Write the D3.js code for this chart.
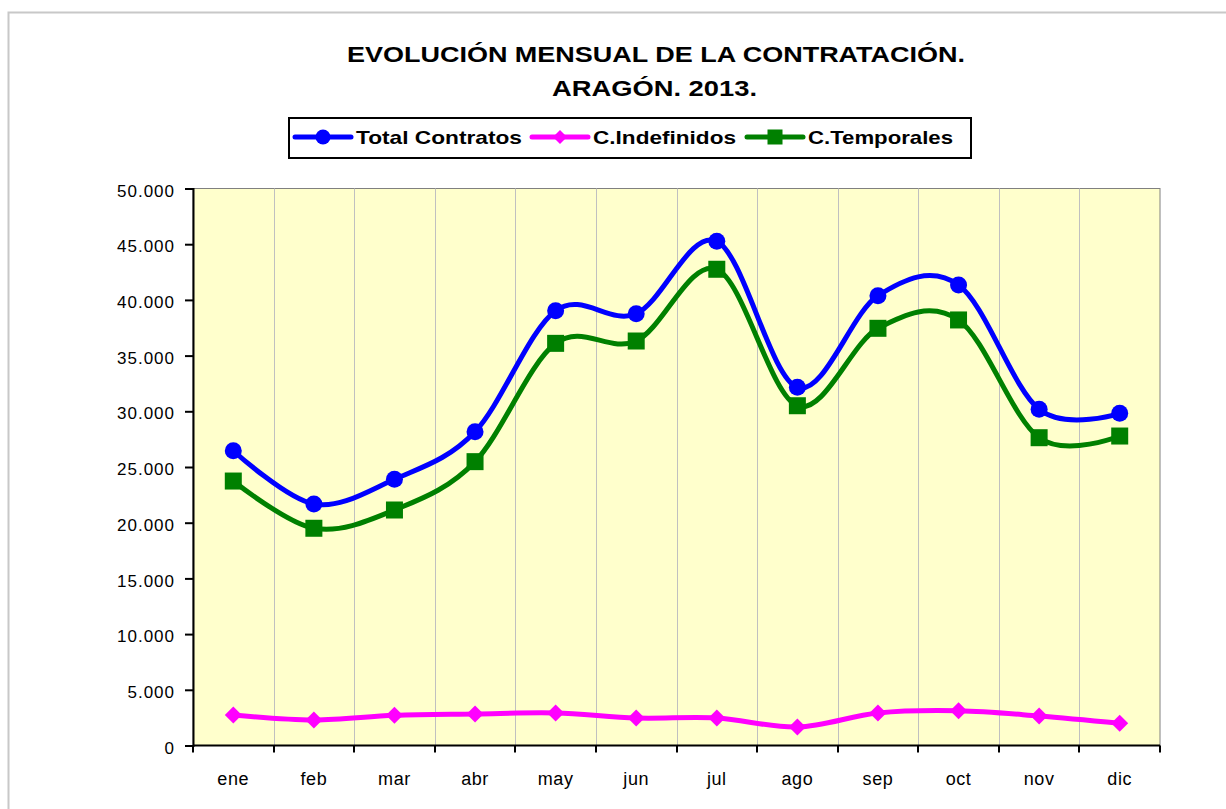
<!DOCTYPE html>
<html>
<head>
<meta charset="utf-8">
<script src="https://cdn.jsdelivr.net/npm/d3@7"></script>
<style>
  body { margin: 0; background: #fff; }
  text { font-family: "Liberation Sans", Arial, sans-serif; fill: #000; }
</style>
</head>
<body>
<svg id="chart"></svg>
<script>
// Datos
const meses = ["ene", "feb", "mar", "abr", "may", "jun", "jul", "ago", "sep", "oct", "nov", "dic"];
const totalContratos = [26460, 21680, 23900, 28170, 39030, 38760, 45260, 32150, 40380, 41340, 30180, 29820];
const indefinidos = [2740, 2290, 2710, 2830, 2920, 2470, 2470, 1660, 2920, 3120, 2650, 1990];
const temporales = [23740, 19500, 21140, 25480, 36100, 36310, 42750, 30500, 37450, 38200, 27630, 27780];
const yTicks = [0, 5000, 10000, 15000, 20000, 25000, 30000, 35000, 40000, 45000, 50000];

const W = 1226, H = 809;
const svg = d3.select("#chart").attr("width", W).attr("height", H);

// marco exterior
svg.append("rect")
  .attr("x", 8.5).attr("y", 12.5)
  .attr("width", 1240).attr("height", 820)
  .attr("fill", "#fff")
  .attr("stroke", "#c8c8c8")
  .attr("stroke-width", 2);

// Titulo
svg.append("text")
  .text("EVOLUCIÓN MENSUAL DE LA CONTRATACIÓN.")
  .attr("x", 347).attr("y", 61.5)
  .attr("textLength", 618).attr("lengthAdjust", "spacingAndGlyphs")
  .attr("font-size", 22).attr("font-weight", "bold");
svg.append("text")
  .text("ARAGÓN. 2013.")
  .attr("x", 552).attr("y", 95.5)
  .attr("textLength", 205).attr("lengthAdjust", "spacingAndGlyphs")
  .attr("font-size", 22).attr("font-weight", "bold");

// zona del grafico
const pLeft = 193, pRight = 1160, pTop = 188.5, pBottom = 745.5;

const x = d3.scaleBand().domain(meses).range([pLeft, pRight]);
const y = d3.scaleLinear().domain([0, 50000]).range([pBottom, pTop]);

svg.append("rect")
  .attr("x", pLeft).attr("y", pTop)
  .attr("width", pRight - pLeft).attr("height", pBottom - pTop)
  .attr("fill", "#ffffcc")
  .attr("stroke", "#808080")
  .attr("stroke-width", 1);

// lineas verticales de separacion
svg.selectAll("line.grid")
  .data(meses.slice(1))
  .enter().append("line")
  .attr("class", "grid")
  .attr("x1", d => Math.round(x(d)) + 0.5)
  .attr("x2", d => Math.round(x(d)) + 0.5)
  .attr("y1", pTop).attr("y2", pBottom)
  .attr("stroke", "#c0c0c0")
  .attr("stroke-width", 1);

// Eje Y
const fmt = d => d === 0 ? "0" : d3.format(",")(d).replace(/,/g, ".");
const yAxis = svg.append("g")
  .attr("transform", `translate(${pLeft},0)`)
  .call(d3.axisLeft(y).tickValues(yTicks).tickSize(8).tickPadding(10).tickFormat(fmt));
yAxis.select(".domain").attr("stroke", "#000").attr("stroke-width", 2);
yAxis.selectAll(".tick line").attr("stroke", "#000").attr("stroke-width", 2);
yAxis.selectAll(".tick text")
  .attr("font-size", 17)
  .attr("dy", "0.45em")
  .attr("letter-spacing", "1px")
  .attr("font-family", "Liberation Sans, Arial, sans-serif")
  .attr("fill", "#000");

// Eje X
const xEdges = d3.range(0, 13).map(i => pLeft + i * x.bandwidth());
const xAxis = svg.append("g");
xAxis.append("line")
  .attr("x1", pLeft).attr("x2", pRight)
  .attr("y1", pBottom).attr("y2", pBottom)
  .attr("stroke", "#000").attr("stroke-width", 2);
xAxis.selectAll("line.tick")
  .data(xEdges)
  .enter().append("line")
  .attr("class", "tick")
  .attr("x1", d => Math.round(d)).attr("x2", d => Math.round(d))
  .attr("y1", pBottom).attr("y2", pBottom + 7)
  .attr("stroke", "#000").attr("stroke-width", 2);
xAxis.selectAll("text")
  .data(meses)
  .enter().append("text")
  .text(d => d)
  .attr("x", d => x(d) + x.bandwidth() / 2)
  .attr("y", 785)
  .attr("text-anchor", "middle")
  .attr("font-size", 18)
  .attr("letter-spacing", "0.6px");

// Series
const series = [
  { nombre: "Total Contratos", valores: totalContratos, color: "#0000ff", marca: "circle" },
  { nombre: "C.Indefinidos", valores: indefinidos, color: "#ff00ff", marca: "diamond" },
  { nombre: "C.Temporales", valores: temporales, color: "#008000", marca: "square" }
];

const cx = i => x(meses[i]) + x.bandwidth() / 2;
const line = d3.line()
  .x((d, i) => cx(i))
  .y(d => y(d))
  .curve(d3.curveCardinal.tension(0));

function drawMarker(g, tipo, px, py, color, s) {
  if (tipo === "circle") {
    g.append("circle").attr("cx", px).attr("cy", py).attr("r", s).attr("fill", color);
  } else if (tipo === "square") {
    g.append("rect").attr("x", px - s).attr("y", py - s)
      .attr("width", 2 * s).attr("height", 2 * s).attr("fill", color);
  } else {
    g.append("path")
      .attr("d", `M${px},${py - s}L${px + s},${py}L${px},${py + s}L${px - s},${py}Z`)
      .attr("fill", color);
  }
}

// orden de dibujo: temporales, indefinidos, total
[series[2], series[1], series[0]].forEach(s => {
  const g = svg.append("g");
  g.append("path")
    .datum(s.valores)
    .attr("d", line)
    .attr("fill", "none")
    .attr("stroke", s.color)
    .attr("stroke-width", 5)
    .attr("stroke-linejoin", "round");
  s.valores.forEach((v, i) => drawMarker(g, s.marca, cx(i), y(v), s.color, 8.5));
});

// Leyenda
svg.append("rect")
  .attr("x", 289).attr("y", 118)
  .attr("width", 682).attr("height", 40)
  .attr("fill", "#fff")
  .attr("stroke", "#000")
  .attr("stroke-width", 2);

const legendItems = [
  { s: series[0], x1: 295, x2: 351, tx: 356, tw: 166 },
  { s: series[1], x1: 532, x2: 588, tx: 593, tw: 143 },
  { s: series[2], x1: 747, x2: 803, tx: 808, tw: 145 }
];
legendItems.forEach(it => {
  const g = svg.append("g");
  g.append("line")
    .attr("x1", it.x1).attr("x2", it.x2)
    .attr("y1", 137).attr("y2", 137)
    .attr("stroke", it.s.color).attr("stroke-width", 5)
    .attr("stroke-linecap", "round");
  drawMarker(g, it.s.marca, (it.x1 + it.x2) / 2, 137, it.s.color, it.s.marca === "diamond" ? 7 : 7.5);
  g.append("text")
    .text(it.s.nombre)
    .attr("x", it.tx).attr("y", 143.5)
    .attr("textLength", it.tw).attr("lengthAdjust", "spacingAndGlyphs")
    .attr("font-size", 19).attr("font-weight", "bold");
});
</script>
</body>
</html>
